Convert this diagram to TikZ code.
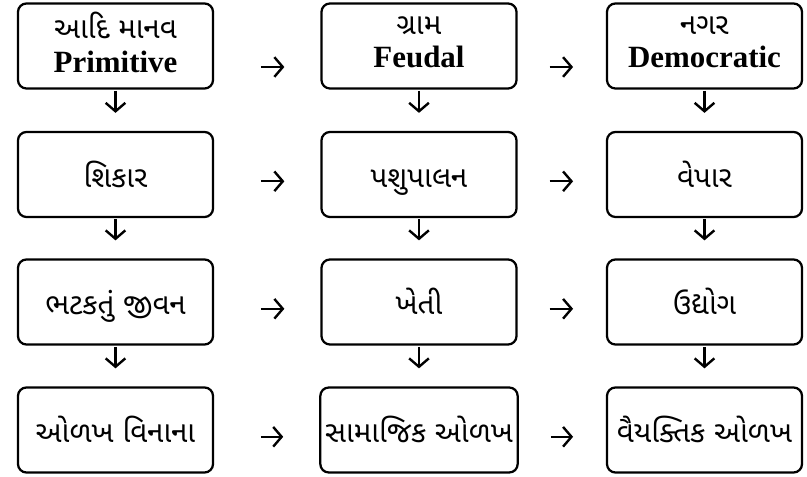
\documentclass[tikz,border=0pt]{standalone}
\usepackage{fontspec}
\usetikzlibrary{arrows.meta}
\setmainfont{Liberation Serif}
\newfontfamily\gujfont[Script=Gujarati]{Noto Sans Gujarati UI}

\begin{document}
\begin{tikzpicture}[
  frame/.style={draw, line width=1.6pt, rounded corners=6pt, minimum width=4.875cm,
    minimum height=2.125cm, align=center},
  box/.style={frame, text height=0.75cm, text depth=0.1cm,
    font=\fontsize{21}{25}\selectfont\gujfont},
  hdr/.style={frame, text depth=0.2cm, font=\fontsize{22}{28}\selectfont},
  arr/.style={line width=1.7pt, -{Straight Barb[length=6pt,width=14pt]}}
]
  \useasboundingbox (0,0) rectangle (20.175,11.925);
  % Top row
  \node[hdr] (p1) at (2.8875,10.775) {{\gujfont\fontsize{21}{25}\selectfont આદિ માનવ}\\[-4pt]\textbf{Primitive}};
  \node[hdr] (p2) at (10.475,10.775) {{\gujfont\fontsize{21}{25}\selectfont ગ્રામ}\\[-4pt]\textbf{Feudal}};
  \node[hdr] (p3) at (17.6125,10.775) {{\gujfont\fontsize{21}{25}\selectfont નગર}\\[-4pt]\textbf{Democratic}};
  % Rows below
  \node[box] (a1) at (2.8875,7.5625) {શિકાર};
  \node[box] (a2) at (10.475,7.5625) {પશુપાલન};
  \node[box] (a3) at (17.6125,7.5625) {વેપાર};
  \node[box] (b1) at (2.8875,4.375) {ભટકતું જીવન};
  \node[box] (b2) at (10.475,4.375) {ખેતી};
  \node[box] (b3) at (17.6125,4.375) {ઉદ્યોગ};
  \node[box] (c1) at (2.8875,1.175) {ઓળખ વિનાના};
  \node[box] (c2) at (10.475,1.175) {સામાજિક ઓળખ};
  \node[box] (c3) at (17.6125,1.175) {વૈયક્તિક ઓળખ};
  % Down arrows
  \foreach \c in {1,2,3}{
    \draw[arr, shorten <=0.03cm, shorten >=0.45cm] (p\c) -- (a\c);
    \draw[arr, shorten <=0.03cm, shorten >=0.45cm] (a\c) -- (b\c);
    \draw[arr, shorten <=0.03cm, shorten >=0.45cm] (b\c) -- (c\c);
  }
  % Side arrows
  \draw[arr, shorten <=1.17cm, shorten >=0.9cm] ([yshift=-0.525cm]p1.east) -- ([yshift=-0.525cm]p2.west);
  \draw[arr, shorten <=0.8cm, shorten >=0.82cm] ([yshift=-0.525cm]p2.east) -- ([yshift=-0.525cm]p3.west);
  \foreach \r in {a,b,c}{
    \draw[arr, shorten <=1.17cm, shorten >=0.9cm] ([yshift=-0.17cm]\r1.east) -- ([yshift=-0.17cm]\r2.west);
    \draw[arr, shorten <=0.8cm, shorten >=0.82cm] ([yshift=-0.17cm]\r2.east) -- ([yshift=-0.17cm]\r3.west);
  }
\end{tikzpicture}
\end{document}
